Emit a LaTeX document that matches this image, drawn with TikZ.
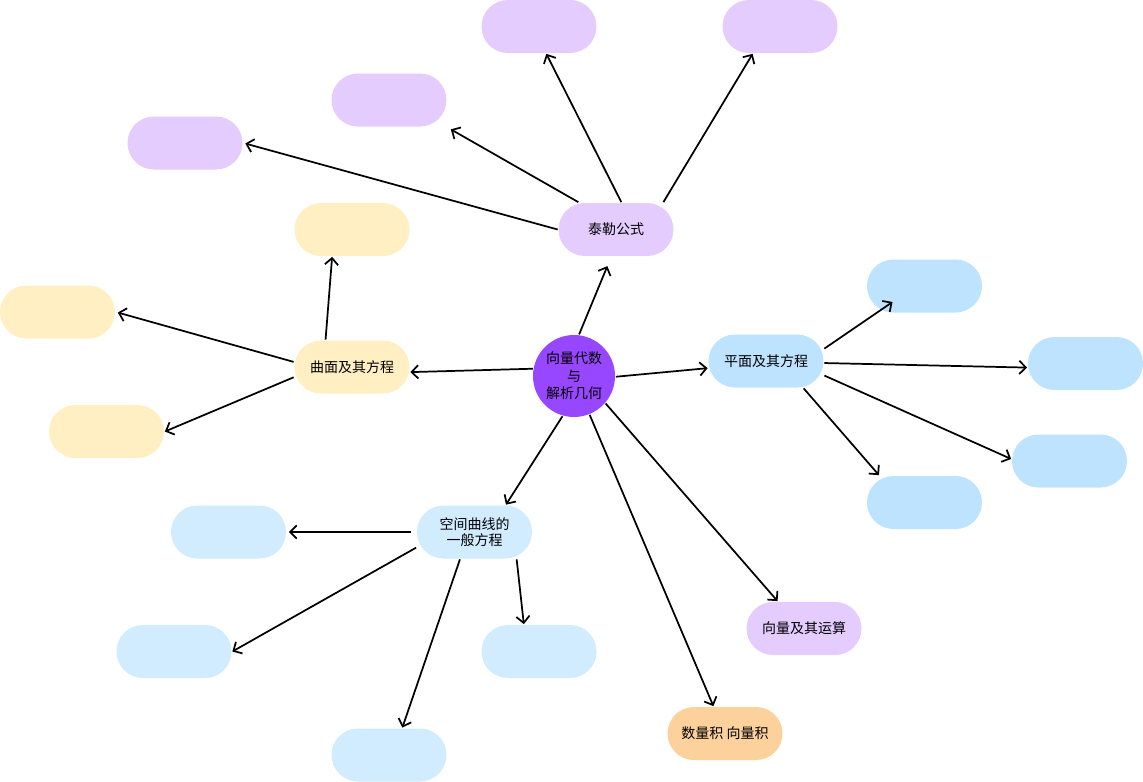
\documentclass[tikz,border=0pt]{standalone}
\usepackage{fontspec}
\newfontfamily\cjk{Noto Sans CJK SC}
\usetikzlibrary{arrows.meta}
\definecolor{hubviolet}{HTML}{9747FF}
\definecolor{lilac}{HTML}{E4CCFF}
\definecolor{butter}{HTML}{FFEFC2}
\definecolor{sky}{HTML}{BDE3FF}
\definecolor{mist}{HTML}{D1EBFF}
\definecolor{peach}{HTML}{FCD19C}

\begin{document}
\begin{tikzpicture}[x=0.75pt,y=-0.75pt,line width=1.3pt,>={Straight Barb[length=5pt,width=10pt]},align=center,
    font=\cjk\fontsize{10.5}{13}\selectfont,
    pill/.style={rectangle,rounded corners=19.8pt,minimum width=86.25pt,minimum height=39.75pt,inner sep=0pt,fill=#1}]
  \useasboundingbox (0,0) rectangle (1143,782);
  % hub and main topics
  \node (vecalg)   [circle,fill=hubviolet,minimum size=61.5pt,inner sep=0pt] at (574,376) {向量代数\\与\\解析几何};
  \node (taylor)   [pill=lilac]  at (616,229.5) {泰勒公式};
  \node (plane)    [pill=sky]    at (766,361)   {平面及其方程};
  \node (surface)  [pill=butter] at (352,367)   {曲面及其方程};
  \node (curve)    [pill=mist,font=\cjk\fontsize{10.5}{12.5}\selectfont] at (474.5,532) {空间曲线的\\一般方程};
  \node (ops)      [pill=lilac]  at (804,628.5) {向量及其运算};
  \node (products) [pill=peach]  at (725,733.5) {数量积 向量积};
  % empty leaves
  \node (taylor1)  [pill=lilac]  at (539,26.5)   {};
  \node (taylor2)  [pill=lilac]  at (780,26.5)   {};
  \node (taylor3)  [pill=lilac]  at (389,100)    {};
  \node (taylor4)  [pill=lilac]  at (185,143)    {};
  \node (surface1) [pill=butter] at (352,229.5)  {};
  \node (surface2) [pill=butter] at (57.5,312)   {};
  \node (surface3) [pill=butter] at (106.5,431.5){};
  \node (plane1)   [pill=sky]    at (924.5,286)  {};
  \node (plane2)   [pill=sky]    at (1085.5,363.5){};
  \node (plane3)   [pill=sky]    at (1069.5,461) {};
  \node (plane4)   [pill=sky]    at (924.5,502.5){};
  \node (curve1)   [pill=mist]   at (228.5,532)  {};
  \node (curve2)   [pill=mist]   at (174,651.5)  {};
  \node (curve3)   [pill=mist]   at (539,651.5)  {};
  \node (curve4)   [pill=mist]   at (389,755)    {};
  % hub links
  \path (vecalg.83)  edge[->,shorten >=7.5pt] (taylor.-100);
  \path (vecalg.-1)  edge[->] (plane.187);
  \path (vecalg.170) edge[->] (surface.-5);
  \path (vecalg.254) edge[->] (curve.41);
  \path (vecalg.-68) edge[->] (products.113);
  \path (vecalg.-41) edge[->] (ops.134);
  % taylor
  \path (taylor.180) edge[->,shorten >=1.5pt] (taylor4.east);
  \path (taylor.144) edge[->,shorten >=3pt] (taylor3.south east);
  \path (taylor.79)  edge[->] (taylor1.-75);
  \path (taylor.30)  edge[->] (taylor2.-135);
  % surface
  \path (surface.134) edge[->] (surface1.-126);
  \path (surface.175) edge[->,shorten >=1.5pt] (surface2.east);
  \path (surface.190) edge[->] (surface3.east);
  % plane
  \path (plane.12)  edge[->] ([xshift=-24pt,yshift=-12pt]plane1.center);
  \path (plane.-2)  edge[->] (plane2.184);
  \path (plane.-14) edge[->] (plane3.178);
  \path (plane.-36) edge[->] (plane4.149);
  % curve
  \path (curve.west) edge[->,shorten <=3.75pt,shorten >=1.5pt] (curve1.east);
  \path (curve.195)  edge[->] (curve2.east);
  \path (curve.242)  edge[->] (curve4.64);
  \path (curve.-33)  edge[->] (curve3.119.5);
\end{tikzpicture}
\end{document}
